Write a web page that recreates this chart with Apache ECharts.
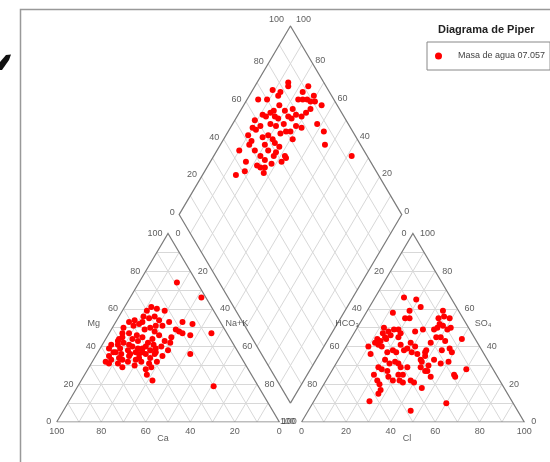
<!DOCTYPE html>
<html><head><meta charset="utf-8">
<script src="https://cdn.jsdelivr.net/npm/echarts@6/dist/echarts.min.js"></script>
<style>html,body{margin:0;padding:0;background:#fff}#c{width:550px;height:462px}</style>
</head><body><div id="c"></div><script>
// ---------- data ----------
const chartTitle = 'Diagrama de Piper';
const seriesName = 'Masa de agua 07.057';
const tickValues = [0, 20, 40, 60, 80, 100];
const cationNames = ['Ca', 'Mg', 'Na+K'];
const anionNames = ['Cl', 'SO₄', 'HCO₃'];
// cation triangle samples: [Ca %, Mg %]  (Na+K = remainder)
const cationSamples = [
  [9,74],[2,66],[7,47],[22,36],[20,19],[46,22],[59,33],[17,53],[13,52],[21,48],[20,47],[17,46],
  [27,61],[25,60],[30,59],[22,59],[33,56],[40,51],[28,42],[55,34],[46,28],[43,29],[56,37],
  [41,53],[38,54],[37,52],[31,55],[27,54],[27,51],[23,53],[36,49],[32,48],[31,46],[44,47],
  [48,45],[41,46],[22,49],[26,45],[55,41],[51,43],[52,39],[49,42],[49,38],[46,40],[46,37],
  [42,43],[42,39],[42,36],[38,42],[39,38],[36,41],[37,37],[33,40],[30,43],[31,38],[55,37],
  [59,35],[50,35],[46,34],[35,35],[62,32],[61,31],[57,31],[56,29],[52,32],[50,30],[46,32],
  [43,31],[39,32],[47,25],[50,44],[47,41],[44,39],[40,40],[45,36],[53,36],[48,33],[44,44],
  [39,45],[35,44],[52,41],[57,39],[54,33],[49,36],[43,37],[38,36],[41,34],[36,39],[47,47],
  [33,50],[30,51],[45,50],[28,56],[35,53]
];
// anion triangle samples: [Cl %, SO4 %]  (HCO3 = remainder)
const anionSamples = [
  [13,66],[19,65],[23,61],[34,59],[12,58],[19,59],[21,55],[19,55],[34,55],[36,52],[36,50],
  [38,51],[35,49],[42,50],[50,44],[12,50],[15,48],[17,49],[19,49],[21,47],[27,48],[30,49],
  [12,44],[14,41],[12,42],[14,43],[16,40],[16,44],[13,36],[21,45],[24,41],[27,38],[28,39],
  [31,37],[31,40],[37,37],[38,35],[38,32],[37,38],[37,42],[38,45],[40,45],[43,43],[47,39],
  [49,37],[47,31],[50,32],[60,28],[56,25],[57,24],[20,29],[22,28],[25,27],[27,24],[30,22],
  [33,22],[35,21],[38,22],[40,21],[39,29],[42,27],[24,31],[26,32],[28,31],[30,29],[33,29],
  [25,20],[27,17],[27,15],[25,11],[46,6],[60,10],[45,18],[43,27],[46,24],[22,38],[24,37],
  [10,40],[13,47],[15,45],[17,46],[28,42],[34,36],[37,33],[42,30],[43,33],[44,38],[21,33],
  [20,37],[33,25],[31,25],[20,25],[23,22],[41,49],[39,55],[36,56]
];
// diamond samples: [Ca+Mg %, SO4+Cl %]
const diamondSamples = [
  [85,36],[82,41],[84,44],[87,50],[87,52],[95,66],[91,70],[90,56],[88,57],[87,60],[89,64],
  [87,65],[86,68],[85,70],[83,51],[79,52],[76,53],[73,49],[72,55],[73,58],[78,48],[76,49],
  [74,51],[90,52],[91,75],[86,84],[87,78],[85,83],[87,76],[76,92],[77,88],[77,84],[75,86],
  [73,88],[71,89],[71,92],[69,91],[69,87],[70,84],[71,81],[65,93],[62,86],[57,87],[53,84],
  [38,93],[77,79],[74,79],[75,76],[77,75],[81,70],[80,67],[76,67],[74,70],[72,72],[68,78],
  [76,62],[73,63],[73,60],[68,63],[67,63],[68,60],[77,71],[83,65],[81,61],[78,62],[80,57],
  [83,58],[83,69],[84,74],[80,75],[77,57],[91,59],[69,71],[71,76],[90,44]
];

// ---------- ternary geometry (data space) ----------
const GAP = 10, H = Math.sqrt(3) / 2;
const Y_MAX = 200 * H + GAP * H;
function cat(ca, mg) { const na = 100 - ca - mg; return [na + mg / 2, mg * H]; }
function an(cl, so4) { return [100 + GAP + cl + so4 / 2, so4 * H]; }
const B = [100 + GAP / 2, GAP * H];
function dia(u, v) { return [B[0] + (v - u) / 2, B[1] + (u + v) * H]; }

const gridSegs = [];
for (let k = 10; k < 100; k += 10) {
  gridSegs.push([cat(100 - k, k), cat(0, k)]);
  gridSegs.push([cat(k, 0), cat(k, 100 - k)]);
  gridSegs.push([cat(100 - k, 0), cat(0, 100 - k)]);
  gridSegs.push([an(0, k), an(100 - k, k)]);
  gridSegs.push([an(k, 0), an(k, 100 - k)]);
  gridSegs.push([an(100 - k, 0), an(0, 100 - k)]);
  gridSegs.push([dia(k, 0), dia(k, 100)]);
  gridSegs.push([dia(0, k), dia(100, k)]);
}
const outlines = [
  [cat(100, 0), cat(0, 0), cat(0, 100), cat(100, 0)],
  [an(0, 0), an(100, 0), an(0, 100), an(0, 0)],
  [dia(0, 0), dia(100, 0), dia(100, 100), dia(0, 100), dia(0, 0)]
];

const FONT = '"Liberation Sans", Arial, sans-serif';
const TXT = '#333';
function labelSeries(items, pos, dist) {
  return {
    type: 'scatter', silent: true, z: 6, symbolSize: 1,
    itemStyle: { color: 'rgba(0,0,0,0)' },
    data: items.map(it => ({ value: [it.p[0], it.p[1], it.t], label: it.label || {} })),
    label: { show: true, position: pos, distance: dist, formatter: p => p.value[2],
      color: TXT, fontSize: 9, fontFamily: FONT }
  };
}
const T = tickValues;
const series = [
  { type: 'lines', coordinateSystem: 'cartesian2d', silent: true, z: 1,
    lineStyle: { color: '#d8d8d8', width: 1, opacity: 1 },
    data: gridSegs.map(s => ({ coords: s })) },
  { type: 'lines', coordinateSystem: 'cartesian2d', polyline: true, silent: true, z: 2,
    lineStyle: { color: '#7c7c7c', width: 1.2, opacity: 1 },
    data: outlines.map(s => ({ coords: s })) },
  // ticks: cation triangle
  labelSeries(T.map(t => ({ p: cat(100 - t, t), t: String(t) })), 'left', 5),
  labelSeries(T.map(t => ({ p: cat(t, 0), t: String(t) })), 'bottom', 5),
  labelSeries(T.map(t => ({ p: cat(0, 100 - t), t: String(t), label: t === 100 ? { distance: 2 } : {} })), 'right', 7),
  // ticks: anion triangle
  labelSeries(T.map(t => ({ p: an(0, 100 - t), t: String(t) })), 'left', 6),
  labelSeries(T.map(t => ({ p: an(t, 0), t: String(t) })), 'bottom', 5),
  labelSeries(T.map(t => ({ p: an(100 - t, t), t: String(t) })), 'right', 6.5),
  // ticks: diamond
  labelSeries(T.map(t => ({ p: dia(100, t), t: String(t), label: { offset: t === 100 ? [-2, -6] : [0, -2] } })), 'left', 4),
  labelSeries(T.map(t => ({ p: dia(t, 100), t: String(t), label: { offset: t === 100 ? [3, -6] : [0, -3] } })), 'right', 2),
  // axis names
  labelSeries([{ p: cat(48, 52), t: cationNames[1] }], 'left', 14),
  labelSeries([{ p: cat(0, 52), t: cationNames[2] }], 'right', 3.5),
  labelSeries([{ p: cat(50, 0), t: cationNames[0], label: { offset: [-5, 0] } }], 'bottom', 12),
  labelSeries([{ p: an(0, 52), t: anionNames[2] }], 'left', 0),
  labelSeries([{ p: an(48, 52), t: anionNames[1] }], 'right', 8),
  labelSeries([{ p: an(50, 0), t: anionNames[0], label: { offset: [-6, 0] } }], 'bottom', 12)
];
const dotStyle = { type: 'scatter', name: seriesName, symbol: 'circle', symbolSize: 6, z: 5,
  itemStyle: { color: '#ff0000', opacity: 1 } };
series.push(Object.assign({}, dotStyle, { data: cationSamples.map(s => cat(s[0], s[1])) }));
series.push(Object.assign({}, dotStyle, { data: anionSamples.map(s => an(s[0], s[1])) }));
series.push(Object.assign({}, dotStyle, { data: diamondSamples.map(s => dia(s[0], s[1])) }));

const chart = echarts.init(document.getElementById('c'), null, { renderer: 'canvas' });
chart.setOption({
  animation: false,
  backgroundColor: '#fff',
  title: { text: chartTitle, left: 438, top: 24, padding: 0,
    textStyle: { fontSize: 11, fontWeight: 'bold', color: '#222', fontFamily: FONT } },
  legend: { data: [{ name: seriesName, icon: 'circle', itemStyle: { opacity: 1 } }], left: 427, top: 42, orient: 'vertical',
    padding: [9.5, 5, 9.5, 8], itemWidth: 7, itemHeight: 7, borderColor: '#888', borderWidth: 1,
    textStyle: { fontSize: 9, color: '#444', fontFamily: FONT, padding: [0, 0, 0, 11] } },
  grid: { left: 56.7, top: 26, width: 467.5, height: 396 },
  xAxis: { type: 'value', min: 0, max: 200 + GAP, show: false },
  yAxis: { type: 'value', min: 0, max: Y_MAX, show: false },
  graphic: [
    { type: 'rect', silent: true, z: -10, shape: { x: 20.5, y: 9.5, width: 600, height: 600 },
      style: { fill: 'none', stroke: '#999', lineWidth: 1.5 } },
    { type: 'polygon', silent: true, shape: { points: [[0, 62], [6, 55], [11, 54.5], [9, 60], [2, 70], [0, 70]] },
      style: { fill: '#111' } }
  ],
  series: series
});
</script></body></html>
